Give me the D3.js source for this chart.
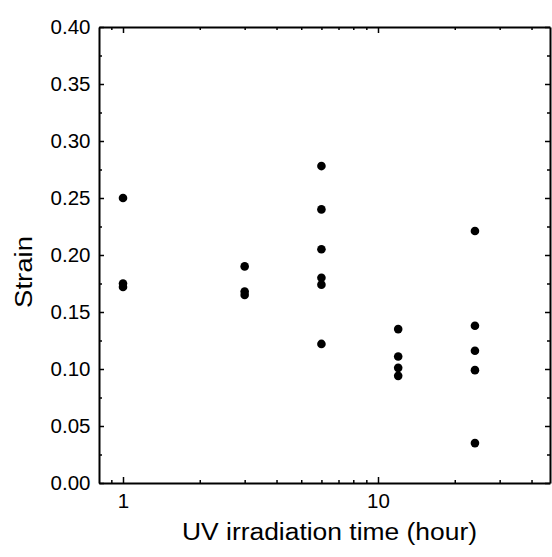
<!DOCTYPE html>
<html><head><meta charset="utf-8">
<script src="https://cdn.jsdelivr.net/npm/d3@7"></script>
<style>body{margin:0;background:#fff}svg{display:block}text{font-family:"Liberation Sans",Arial,sans-serif;fill:#000}</style>
</head><body>
<svg id="c" width="552" height="557"></svg>
<script>
const hours = [1,1,1,3,3,3,6,6,6,6,6,6,12,12,12,12,24,24,24,24,24];
const strain = [0.250,0.175,0.172,0.190,0.168,0.165,0.278,0.240,0.205,0.180,0.174,0.122,0.135,0.111,0.101,0.094,0.221,0.138,0.116,0.099,0.035];
const yTicks = [0.00,0.05,0.10,0.15,0.20,0.25,0.30,0.35,0.40];
const xTicks = [1,10];
const xMinor = [0.9,2,3,4,5,6,7,8,9,20,30,40];

const svg = d3.select("#c");
const L=99, R=550, T=27, B=483;
const x = d3.scaleLog().domain([Math.pow(10,(L-123)/255), Math.pow(10,(R-123)/255)]).range([L,R]);
const y = d3.scaleLinear().domain([0,0.4]).range([B,T]);

const yMinor = d3.range(0.025,0.4,0.05);

// left axis
const gl = svg.append("g").attr("transform",`translate(${L},0)`);
gl.call(d3.axisLeft(y).tickValues(yTicks).tickFormat(d3.format(".2f")).tickSizeInner(-5).tickSizeOuter(0).tickPadding(8.5));
gl.append("g").call(d3.axisLeft(y).tickValues(yMinor).tickFormat("").tickSizeInner(-3).tickSizeOuter(0)).select(".domain").remove();
// right axis
const gr = svg.append("g").attr("transform",`translate(${R},0)`);
gr.call(d3.axisRight(y).tickValues(yTicks).tickFormat("").tickSizeInner(-5).tickSizeOuter(0));
gr.append("g").call(d3.axisRight(y).tickValues(yMinor).tickFormat("").tickSizeInner(-3).tickSizeOuter(0)).select(".domain").remove();
// bottom axis
const gb = svg.append("g").attr("transform",`translate(0,${B})`);
gb.call(d3.axisBottom(x).tickValues(xTicks).tickFormat(d3.format("d")).tickSizeInner(-6).tickSizeOuter(0).tickPadding(10));
gb.append("g").call(d3.axisBottom(x).tickValues(xMinor).tickFormat("").tickSizeInner(-3).tickSizeOuter(0)).select(".domain").remove();
// top axis
const gt = svg.append("g").attr("transform",`translate(0,${T})`);
gt.call(d3.axisTop(x).tickValues(xTicks).tickFormat("").tickSizeInner(-6).tickSizeOuter(0));
gt.append("g").call(d3.axisTop(x).tickValues(xMinor).tickFormat("").tickSizeInner(-3).tickSizeOuter(0)).select(".domain").remove();

svg.selectAll(".domain").attr("stroke","#000").attr("stroke-width",2);
svg.selectAll(".tick line").attr("stroke","#000").attr("stroke-width",1.5);
svg.selectAll(".tick text").style("font-size","20.5px").style("font-family","Liberation Sans, Arial, sans-serif");

// points
svg.append("g").selectAll("circle").data(hours.map((h,i)=>[h,strain[i]])).join("circle")
  .attr("cx",d=>x(d[0])).attr("cy",d=>y(d[1])).attr("r",4.3).attr("fill","#000");

// axis titles
svg.append("text").attr("x",182).attr("y",540).attr("text-anchor","start").style("font-size","23px")
  .attr("textLength",295).attr("lengthAdjust","spacingAndGlyphs").text("UV irradiation time (hour)");
svg.append("text").attr("transform","translate(32,272) rotate(-90)").attr("text-anchor","middle").style("font-size","23px")
  .attr("textLength",72).attr("lengthAdjust","spacingAndGlyphs").text("Strain");
</script>
</body></html>
